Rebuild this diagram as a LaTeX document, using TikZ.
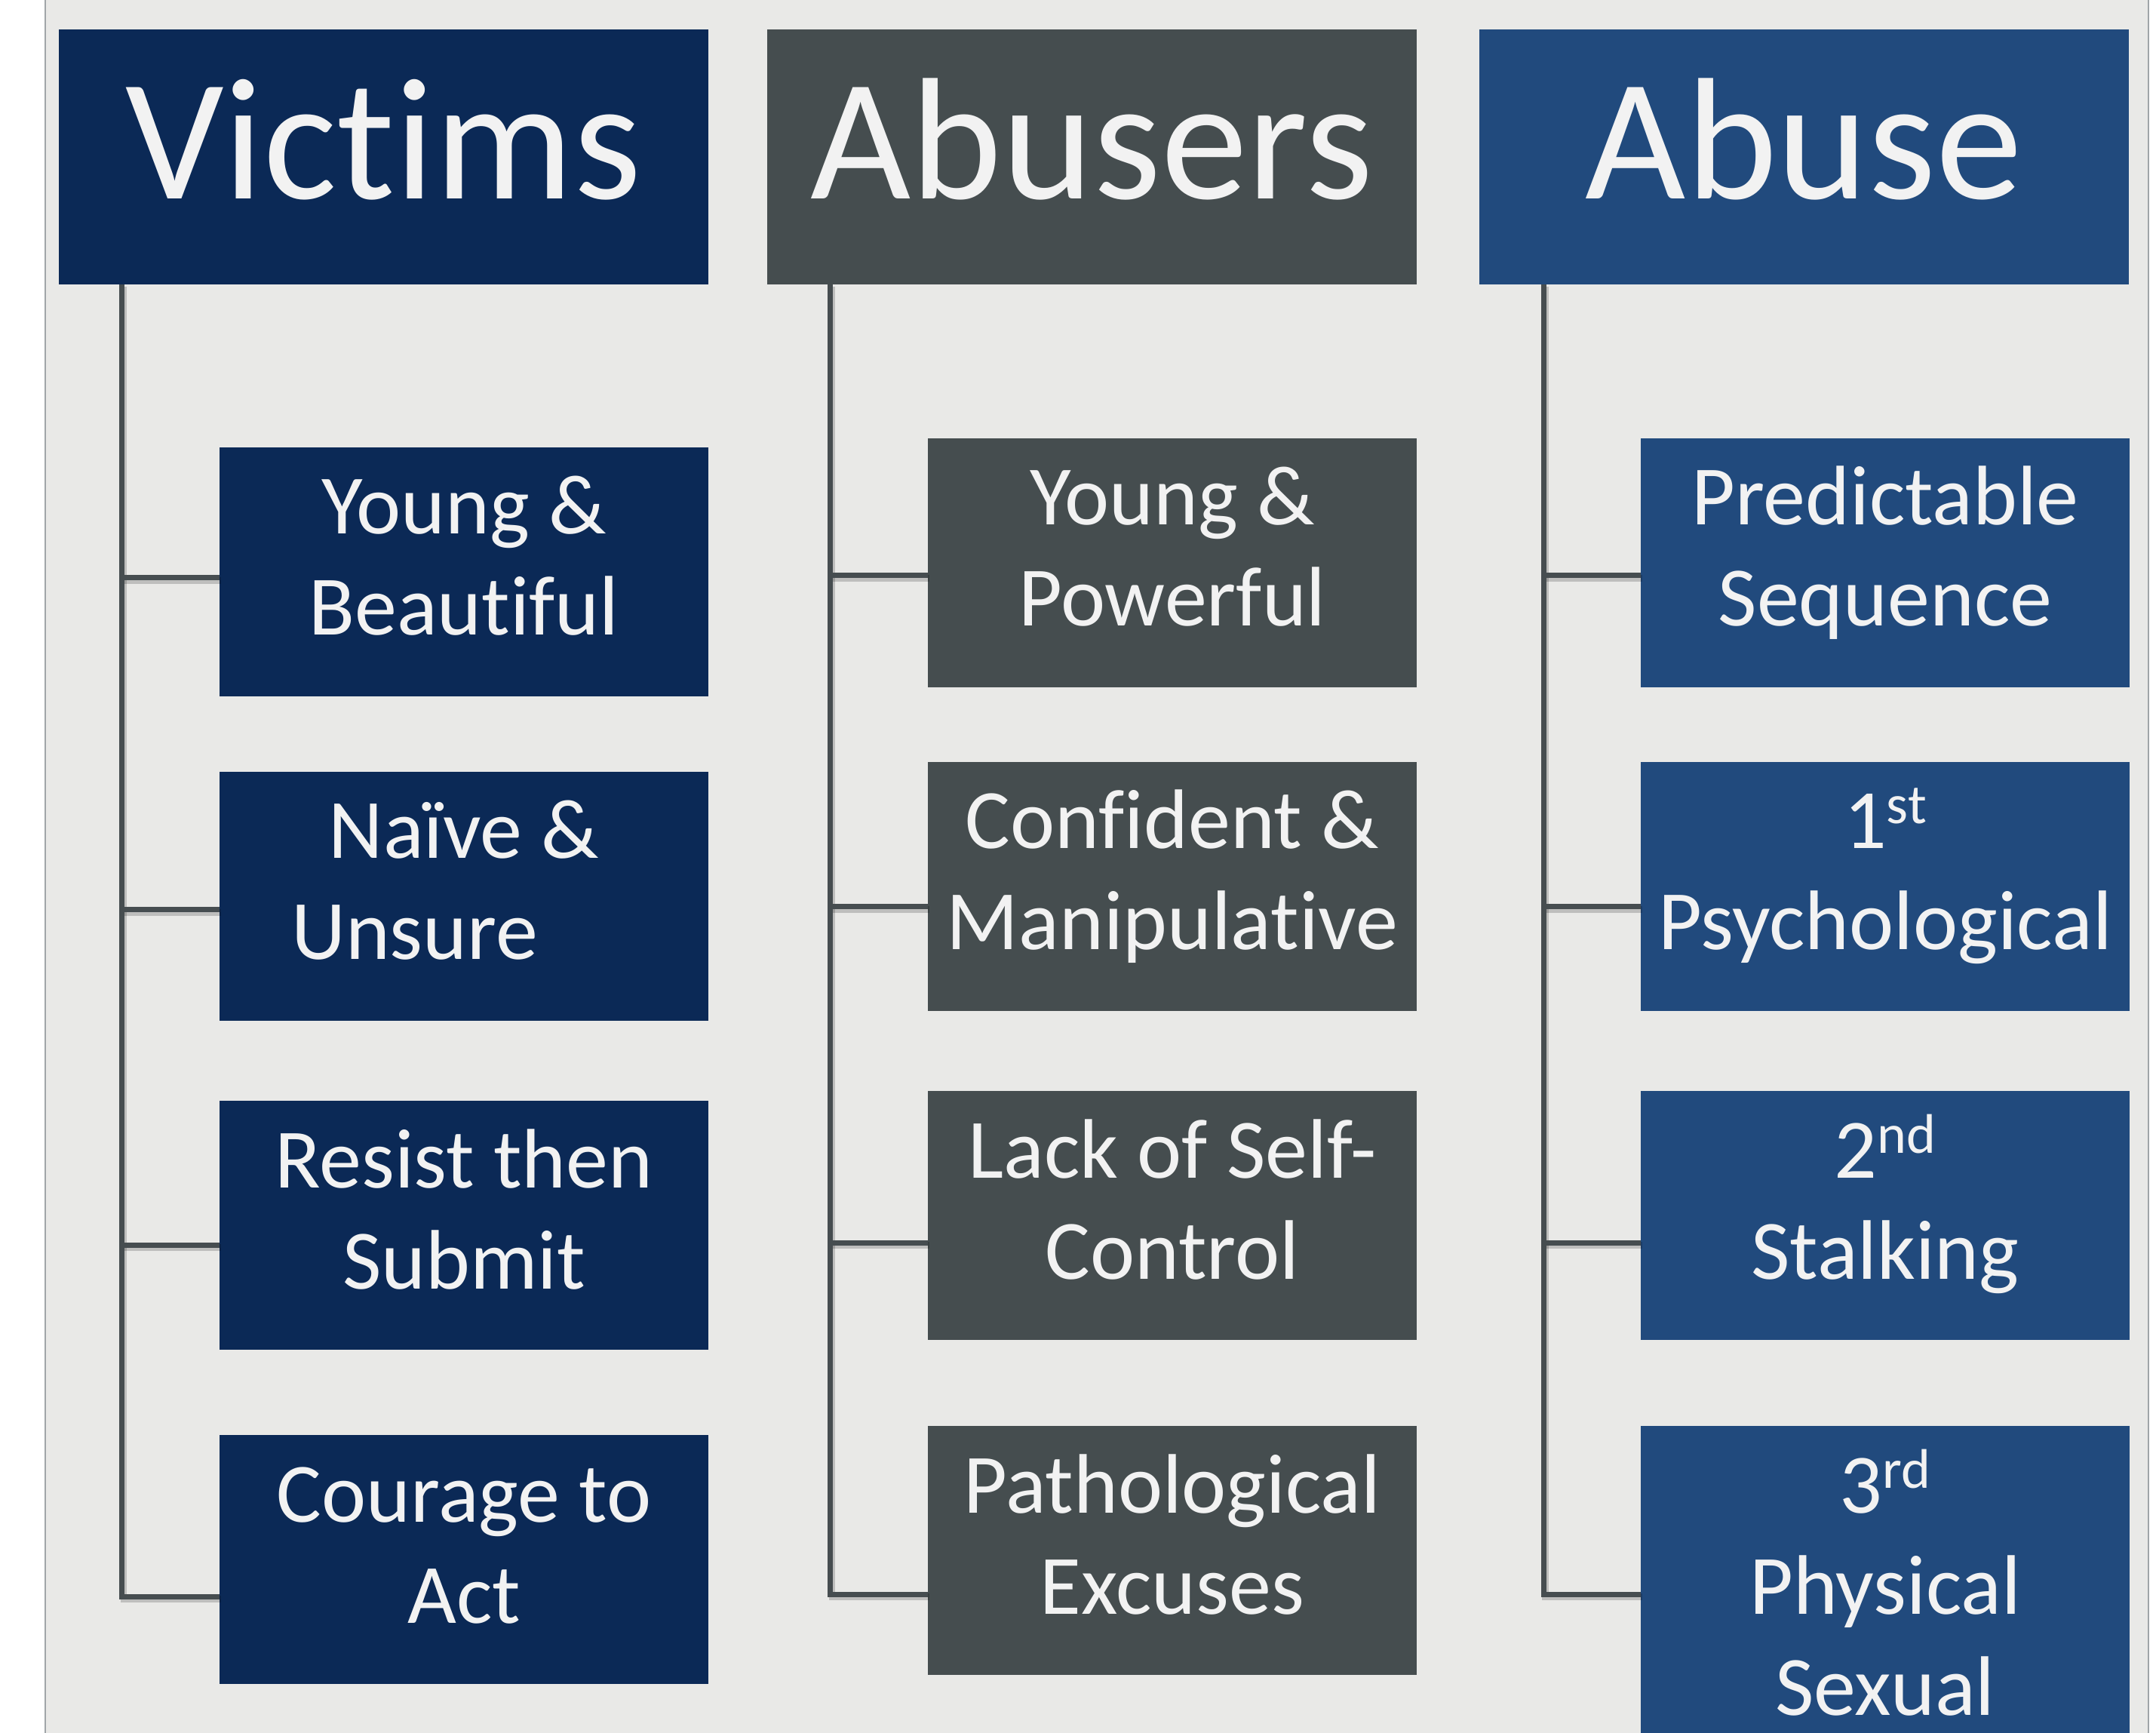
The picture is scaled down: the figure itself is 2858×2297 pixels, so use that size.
\documentclass[tikz,border=0pt]{standalone}
\usepackage{fontspec}
\setmainfont{Carlito}[Ligatures={NoCommon,TeX}]
\definecolor{bgc}{HTML}{E9E9E7}
\definecolor{bordc}{HTML}{A0A5A8}
\definecolor{vicc}{HTML}{0B2956}
\definecolor{abrc}{HTML}{454D4F}
\definecolor{abuc}{HTML}{214A7D}
\definecolor{txtc}{HTML}{F2F2F2}
\definecolor{linec}{HTML}{464D50}
\newcommand\hdrtext[1]{\parbox[c][84.5pt][t]{215.25pt}{\centering\fontsize{57.5}{69}\selectfont\rule{0pt}{56.25pt}#1}}
\newcommand\kidtext[2][82.5pt]{\parbox[c][#1][t]{162pt}{\centering\fontsize{28}{33.5}\selectfont\rule{0pt}{28.75pt}#2}}
\newcommand\ordsup[1]{\raisebox{8.25pt}{\fontsize{18.5}{18.5}\selectfont #1}}
\begin{document}
\begin{tikzpicture}[x=0.25pt,y=-0.25pt,
  box/.style={anchor=north west, inner sep=0pt, outer sep=0pt, text=txtc},
  vicbox/.style={box, fill=vicc},
  abrbox/.style={box, fill=abrc},
  abubox/.style={box, fill=abuc},
  conn/.style={draw=linec, line width=1.75pt, line join=miter},
  connshadow/.style={draw=black, opacity=0.18, line width=2.2pt, line join=miter}]
\useasboundingbox (0,0) rectangle (2858,2297);
\fill[white] (0,0) rectangle (2858,2297);
\fill[bgc] (60,0) rectangle (2848,2297);
\draw[bordc, line width=0.6pt] (60,0) -- (60,2297);
\draw[bordc, line width=0.6pt] (2848,0) -- (2848,2297);

% headers
\node[vicbox] (vic) at (78,39) {\hdrtext{Victims}};
\node[abrbox] (abr) at (1017,39) {\hdrtext{Abusers}};
\node[abubox] (abu) at (1961,39) {\hdrtext{Abuse}};

% victims children
\node[vicbox] (vc1) at (291,593) {\kidtext{Young \&\\Beautiful}};
\node[vicbox] (vc2) at (291,1023) {\kidtext{Naïve \&\\Unsure\makebox[32.75pt]{}}};
\node[vicbox] (vc3) at (291,1459) {\kidtext{Resist then\\Submit}};
\node[vicbox] (vc4) at (291,1902) {\kidtext{Courage to\\Act}};

% abusers children
\node[abrbox] (ac1) at (1230,581) {\kidtext{Young \&\\Powerful}};
\node[abrbox] (ac2) at (1230,1010) {\kidtext{Confident \&\\Manipulative}};
\node[abrbox] (ac3) at (1230,1446) {\kidtext{Lack of Self-\\Control}};
\node[abrbox] (ac4) at (1230,1890) {\kidtext{Pathological\\Excuses}};

% abuse children
\node[abubox] (bc1) at (2175,581) {\kidtext{Predictable\\Sequence}};
\node[abubox] (bc2) at (2175,1010) {\kidtext{1\ordsup{st}\\Psychological}};
\node[abubox] (bc3) at (2175,1446) {\kidtext{2\ordsup{nd}\\Stalking}};
\node[abubox] (bc4) at (2175,1890) {\kidtext[117pt]{3\ordsup{rd}\\Physical\\Sexual}};

% trunk start points
\coordinate (vt) at (vic.south -| 161.5,0);
\coordinate (at) at (abr.south -| 1100.5,0);
\coordinate (bt) at (abu.south -| 2046,0);

% connector shadows
\begin{scope}[transform canvas={xshift=0.6pt,yshift=-0.8pt}]
\draw[connshadow] (vt) |- (vc4.west |- 0,2116);
\draw[connshadow] (vt |- 0,766) -- (vc1.west |- 0,766);
\draw[connshadow] (vt |- 0,1206) -- (vc2.west |- 0,1206);
\draw[connshadow] (vt |- 0,1650) -- (vc3.west |- 0,1650);
\draw[connshadow] (at) |- (ac4.west |- 0,2113);
\draw[connshadow] (at |- 0,763) -- (ac1.west |- 0,763);
\draw[connshadow] (at |- 0,1202) -- (ac2.west |- 0,1202);
\draw[connshadow] (at |- 0,1647) -- (ac3.west |- 0,1647);
\draw[connshadow] (bt) |- (bc4.west |- 0,2113);
\draw[connshadow] (bt |- 0,763) -- (bc1.west |- 0,763);
\draw[connshadow] (bt |- 0,1202) -- (bc2.west |- 0,1202);
\draw[connshadow] (bt |- 0,1647) -- (bc3.west |- 0,1647);
\end{scope}

% connectors
\draw[conn] (vt) |- (vc4.west |- 0,2116);
\draw[conn] (vt |- 0,766) -- (vc1.west |- 0,766);
\draw[conn] (vt |- 0,1206) -- (vc2.west |- 0,1206);
\draw[conn] (vt |- 0,1650) -- (vc3.west |- 0,1650);
\draw[conn] (at) |- (ac4.west |- 0,2113);
\draw[conn] (at |- 0,763) -- (ac1.west |- 0,763);
\draw[conn] (at |- 0,1202) -- (ac2.west |- 0,1202);
\draw[conn] (at |- 0,1647) -- (ac3.west |- 0,1647);
\draw[conn] (bt) |- (bc4.west |- 0,2113);
\draw[conn] (bt |- 0,763) -- (bc1.west |- 0,763);
\draw[conn] (bt |- 0,1202) -- (bc2.west |- 0,1202);
\draw[conn] (bt |- 0,1647) -- (bc3.west |- 0,1647);
\end{tikzpicture}
\end{document}
